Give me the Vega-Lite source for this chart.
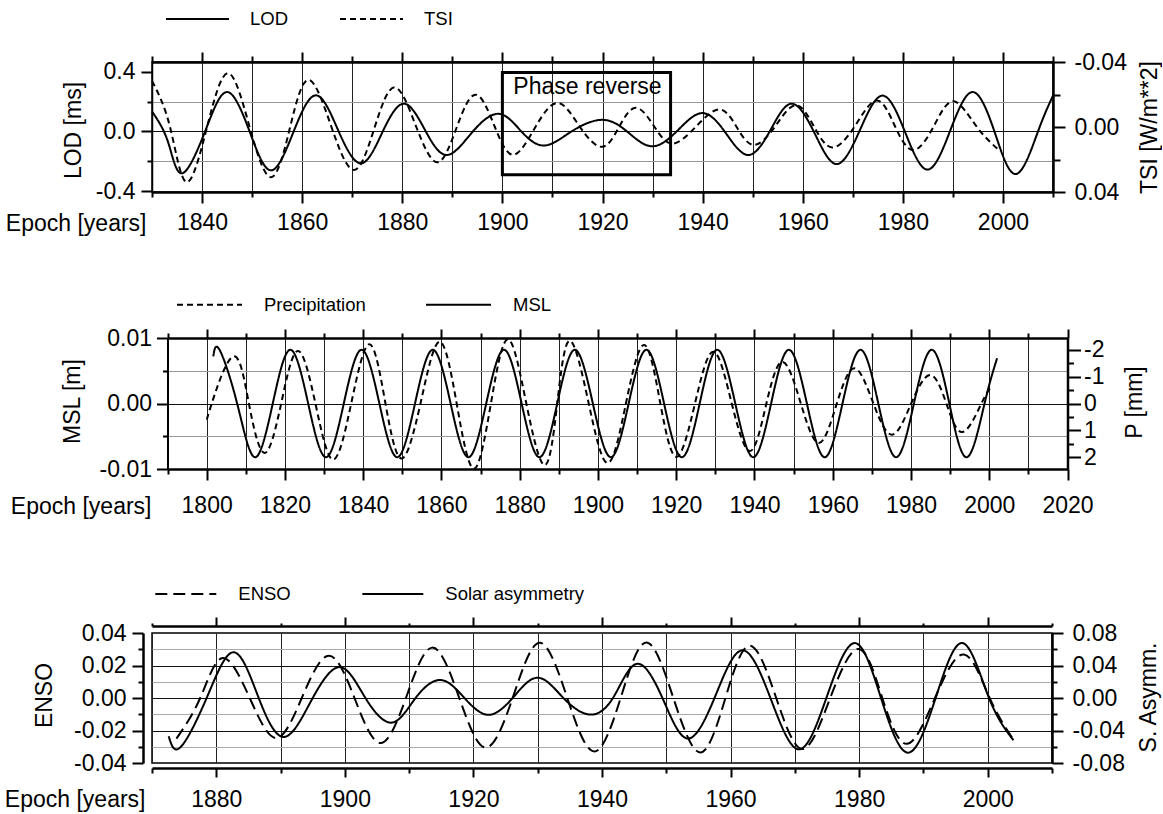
{
  "$schema": "https://vega.github.io/schema/vega-lite/v6.json",
  "background": "white",
  "padding": {"left": 3, "top": -15, "right": 0, "bottom": 0},
  "spacing": 20,
  "bounds": "full",
  "align": "none",
  "columns": 1,
  "datasets": {
    "lod": [
      {"year":1830,"v":0.134,"s":"LOD"},{"year":1833.2,"v":-0.07,"s":"LOD"},{"year":1836.0,"v":-0.28,"s":"LOD"},{"year":1840.6,"v":0,"s":"LOD"},{"year":1845.0,"v":0.264,"s":"LOD"},{"year":1849.5,"v":0,"s":"LOD"},{"year":1853.8,"v":-0.26,"s":"LOD"},{"year":1858.3,"v":0,"s":"LOD"},{"year":1862.8,"v":0.242,"s":"LOD"},{"year":1867.3,"v":0,"s":"LOD"},{"year":1871.8,"v":-0.213,"s":"LOD"},{"year":1876.1,"v":0,"s":"LOD"},{"year":1880.4,"v":0.186,"s":"LOD"},{"year":1884.7,"v":0,"s":"LOD"},{"year":1889.0,"v":-0.157,"s":"LOD"},{"year":1894.1,"v":0,"s":"LOD"},{"year":1899.3,"v":0.118,"s":"LOD"},{"year":1903.8,"v":0,"s":"LOD"},{"year":1908.4,"v":-0.094,"s":"LOD"},{"year":1913.8,"v":0,"s":"LOD"},{"year":1919.9,"v":0.078,"s":"LOD"},{"year":1924.9,"v":0,"s":"LOD"},{"year":1929.8,"v":-0.099,"s":"LOD"},{"year":1934.8,"v":0,"s":"LOD"},{"year":1939.8,"v":0.123,"s":"LOD"},{"year":1944.4,"v":0,"s":"LOD"},{"year":1949.0,"v":-0.157,"s":"LOD"},{"year":1953.4,"v":0,"s":"LOD"},{"year":1957.7,"v":0.186,"s":"LOD"},{"year":1962.2,"v":0,"s":"LOD"},{"year":1966.7,"v":-0.218,"s":"LOD"},{"year":1971.3,"v":0,"s":"LOD"},{"year":1975.9,"v":0.24,"s":"LOD"},{"year":1980.4,"v":0,"s":"LOD"},{"year":1984.9,"v":-0.255,"s":"LOD"},{"year":1989.4,"v":0,"s":"LOD"},{"year":1993.9,"v":0.264,"s":"LOD"},{"year":1998.3,"v":0,"s":"LOD"},{"year":2002.6,"v":-0.285,"s":"LOD"},{"year":2007.0,"v":0,"s":"LOD"},{"year":2010.0,"v":0.24,"s":"LOD"}
    ],
    "tsi": [
      {"year":1830,"v":-0.0284,"s":"TSI"},{"year":1833.6,"v":0,"s":"TSI"},{"year":1836.9,"v":0.0339,"s":"TSI"},{"year":1841.0,"v":0,"s":"TSI"},{"year":1845.2,"v":-0.0331,"s":"TSI"},{"year":1849.5,"v":0,"s":"TSI"},{"year":1853.8,"v":0.0309,"s":"TSI"},{"year":1857.6,"v":0,"s":"TSI"},{"year":1861.3,"v":-0.029,"s":"TSI"},{"year":1865.85,"v":0,"s":"TSI"},{"year":1870.4,"v":0.0264,"s":"TSI"},{"year":1874.5,"v":0,"s":"TSI"},{"year":1878.5,"v":-0.0244,"s":"TSI"},{"year":1882.8,"v":0,"s":"TSI"},{"year":1887.05,"v":0.0217,"s":"TSI"},{"year":1890.9,"v":0,"s":"TSI"},{"year":1894.7,"v":-0.0199,"s":"TSI"},{"year":1898.5,"v":0,"s":"TSI"},{"year":1902.2,"v":0.0171,"s":"TSI"},{"year":1906.6,"v":0,"s":"TSI"},{"year":1911.1,"v":-0.0148,"s":"TSI"},{"year":1915.5,"v":0,"s":"TSI"},{"year":1919.9,"v":0.0122,"s":"TSI"},{"year":1923.3,"v":0,"s":"TSI"},{"year":1926.7,"v":-0.0118,"s":"TSI"},{"year":1930.4,"v":0,"s":"TSI"},{"year":1934.0,"v":0.0102,"s":"TSI"},{"year":1938.6,"v":0,"s":"TSI"},{"year":1943.3,"v":-0.0108,"s":"TSI"},{"year":1946.8,"v":0,"s":"TSI"},{"year":1950.2,"v":0.011,"s":"TSI"},{"year":1954.4,"v":0,"s":"TSI"},{"year":1958.6,"v":-0.0134,"s":"TSI"},{"year":1962.3,"v":0,"s":"TSI"},{"year":1965.9,"v":0.0126,"s":"TSI"},{"year":1970.3,"v":0,"s":"TSI"},{"year":1974.8,"v":-0.0163,"s":"TSI"},{"year":1978.5,"v":0,"s":"TSI"},{"year":1982.1,"v":0.0142,"s":"TSI"},{"year":1986.1,"v":0,"s":"TSI"},{"year":1990.1,"v":-0.0158,"s":"TSI"},{"year":1994.8,"v":0,"s":"TSI"},{"year":1999.5,"v":0.015,"s":"TSI"}
    ],
    "box": [
      {"x0":1900,"x1":1933.6,"y0":0.395,"y1":-0.29,"tx":1917,"ty":0.3,"label":"Phase reverse"}
    ],
    "msl": [
      {"year":1801.7,"v":0.0072,"s":"MSL"},{"year":1803.3,"v":0.0082,"s":"MSL"},{"year":1807.8,"v":0,"s":"MSL"},{"year":1812.35,"v":-0.0082,"s":"MSL"},{"year":1816.9,"v":0,"s":"MSL"},{"year":1821.4,"v":0.0082,"s":"MSL"},{"year":1825.95,"v":0,"s":"MSL"},{"year":1830.5,"v":-0.0082,"s":"MSL"},{"year":1835.05,"v":0,"s":"MSL"},{"year":1839.6,"v":0.0082,"s":"MSL"},{"year":1844.15,"v":0,"s":"MSL"},{"year":1848.7,"v":-0.0082,"s":"MSL"},{"year":1853.25,"v":0,"s":"MSL"},{"year":1857.8,"v":0.0082,"s":"MSL"},{"year":1862.35,"v":0,"s":"MSL"},{"year":1866.9,"v":-0.0082,"s":"MSL"},{"year":1871.45,"v":0,"s":"MSL"},{"year":1876.0,"v":0.0082,"s":"MSL"},{"year":1880.5,"v":0,"s":"MSL"},{"year":1885.05,"v":-0.0082,"s":"MSL"},{"year":1889.6,"v":0,"s":"MSL"},{"year":1894.1,"v":0.0082,"s":"MSL"},{"year":1898.7,"v":0,"s":"MSL"},{"year":1903.3,"v":-0.0082,"s":"MSL"},{"year":1907.85,"v":0,"s":"MSL"},{"year":1912.4,"v":0.0082,"s":"MSL"},{"year":1916.9,"v":0,"s":"MSL"},{"year":1921.45,"v":-0.0082,"s":"MSL"},{"year":1926.0,"v":0,"s":"MSL"},{"year":1930.5,"v":0.0082,"s":"MSL"},{"year":1935.1,"v":0,"s":"MSL"},{"year":1939.7,"v":-0.0082,"s":"MSL"},{"year":1944.25,"v":0,"s":"MSL"},{"year":1948.8,"v":0.0082,"s":"MSL"},{"year":1953.4,"v":0,"s":"MSL"},{"year":1957.95,"v":-0.0082,"s":"MSL"},{"year":1962.5,"v":0,"s":"MSL"},{"year":1967.1,"v":0.0082,"s":"MSL"},{"year":1971.65,"v":0,"s":"MSL"},{"year":1976.2,"v":-0.0082,"s":"MSL"},{"year":1980.75,"v":0,"s":"MSL"},{"year":1985.3,"v":0.0082,"s":"MSL"},{"year":1989.8,"v":0,"s":"MSL"},{"year":1994.3,"v":-0.0082,"s":"MSL"},{"year":1998.8,"v":0,"s":"MSL"},{"year":2002.0,"v":0.0069,"s":"MSL"}
    ],
    "precip": [
      {"year":1800.1,"v":0.6,"s":"Precipitation"},{"year":1801.3,"v":0,"s":"Precipitation"},{"year":1806.8,"v":-1.75,"s":"Precipitation"},{"year":1810.8,"v":0,"s":"Precipitation"},{"year":1814.8,"v":1.84,"s":"Precipitation"},{"year":1819.05,"v":0,"s":"Precipitation"},{"year":1823.3,"v":-1.96,"s":"Precipitation"},{"year":1827.8,"v":0,"s":"Precipitation"},{"year":1832.3,"v":2.09,"s":"Precipitation"},{"year":1836.95,"v":0,"s":"Precipitation"},{"year":1841.6,"v":-2.21,"s":"Precipitation"},{"year":1845.7,"v":0,"s":"Precipitation"},{"year":1849.8,"v":2.05,"s":"Precipitation"},{"year":1854.65,"v":0,"s":"Precipitation"},{"year":1859.5,"v":-2.3,"s":"Precipitation"},{"year":1863.9,"v":0,"s":"Precipitation"},{"year":1868.3,"v":2.43,"s":"Precipitation"},{"year":1872.65,"v":0,"s":"Precipitation"},{"year":1877.0,"v":-2.39,"s":"Precipitation"},{"year":1881.7,"v":0,"s":"Precipitation"},{"year":1886.4,"v":2.3,"s":"Precipitation"},{"year":1889.6,"v":0,"s":"Precipitation"},{"year":1892.8,"v":-2.34,"s":"Precipitation"},{"year":1897.65,"v":0,"s":"Precipitation"},{"year":1902.5,"v":2.22,"s":"Precipitation"},{"year":1907.15,"v":0,"s":"Precipitation"},{"year":1911.8,"v":-2.18,"s":"Precipitation"},{"year":1915.95,"v":0,"s":"Precipitation"},{"year":1920.1,"v":1.99,"s":"Precipitation"},{"year":1924.8,"v":0,"s":"Precipitation"},{"year":1929.5,"v":-1.93,"s":"Precipitation"},{"year":1934.2,"v":0,"s":"Precipitation"},{"year":1938.9,"v":1.77,"s":"Precipitation"},{"year":1943.05,"v":0,"s":"Precipitation"},{"year":1947.2,"v":-1.55,"s":"Precipitation"},{"year":1951.85,"v":0,"s":"Precipitation"},{"year":1956.5,"v":1.47,"s":"Precipitation"},{"year":1961.05,"v":0,"s":"Precipitation"},{"year":1965.6,"v":-1.31,"s":"Precipitation"},{"year":1970.4,"v":0,"s":"Precipitation"},{"year":1975.2,"v":1.16,"s":"Precipitation"},{"year":1980.05,"v":0,"s":"Precipitation"},{"year":1984.9,"v":-1.06,"s":"Precipitation"},{"year":1989.05,"v":0,"s":"Precipitation"},{"year":1993.2,"v":1.06,"s":"Precipitation"},{"year":1998.0,"v":0,"s":"Precipitation"},{"year":2000.2,"v":-0.56,"s":"Precipitation"}
    ],
    "enso": [
      {"year":1873.8,"v":-0.025,"s":"ENSO"},{"year":1877.5,"v":0,"s":"ENSO"},{"year":1881.0,"v":0.0246,"s":"ENSO"},{"year":1885.2,"v":0,"s":"ENSO"},{"year":1889.3,"v":-0.0246,"s":"ENSO"},{"year":1893.3,"v":0,"s":"ENSO"},{"year":1897.5,"v":0.026,"s":"ENSO"},{"year":1901.5,"v":0,"s":"ENSO"},{"year":1905.5,"v":-0.0277,"s":"ENSO"},{"year":1909.5,"v":0,"s":"ENSO"},{"year":1913.6,"v":0.031,"s":"ENSO"},{"year":1917.8,"v":0,"s":"ENSO"},{"year":1921.9,"v":-0.0305,"s":"ENSO"},{"year":1926.1,"v":0,"s":"ENSO"},{"year":1930.3,"v":0.034,"s":"ENSO"},{"year":1934.6,"v":0,"s":"ENSO"},{"year":1938.8,"v":-0.0329,"s":"ENSO"},{"year":1942.9,"v":0,"s":"ENSO"},{"year":1946.9,"v":0.0342,"s":"ENSO"},{"year":1951.1,"v":0,"s":"ENSO"},{"year":1955.3,"v":-0.0335,"s":"ENSO"},{"year":1959.2,"v":0,"s":"ENSO"},{"year":1963.0,"v":0.0322,"s":"ENSO"},{"year":1967.1,"v":0,"s":"ENSO"},{"year":1971.2,"v":-0.0314,"s":"ENSO"},{"year":1975.5,"v":0,"s":"ENSO"},{"year":1979.9,"v":0.0302,"s":"ENSO"},{"year":1983.6,"v":0,"s":"ENSO"},{"year":1987.4,"v":-0.0282,"s":"ENSO"},{"year":1991.8,"v":0,"s":"ENSO"},{"year":1996.3,"v":0.0268,"s":"ENSO"},{"year":2000.3,"v":0,"s":"ENSO"},{"year":2004.0,"v":-0.0257,"s":"ENSO"}
    ],
    "sa": [
      {"year":1872.6,"v":-0.047,"s":"Solar asymmetry"},{"year":1874.4,"v":-0.0608,"s":"Solar asymmetry"},{"year":1878.5,"v":0,"s":"Solar asymmetry"},{"year":1882.7,"v":0.0563,"s":"Solar asymmetry"},{"year":1886.6,"v":0,"s":"Solar asymmetry"},{"year":1890.6,"v":-0.0479,"s":"Solar asymmetry"},{"year":1895.0,"v":0,"s":"Solar asymmetry"},{"year":1899.3,"v":0.038,"s":"Solar asymmetry"},{"year":1903.2,"v":0,"s":"Solar asymmetry"},{"year":1907.3,"v":-0.0303,"s":"Solar asymmetry"},{"year":1911.0,"v":0,"s":"Solar asymmetry"},{"year":1914.9,"v":0.0222,"s":"Solar asymmetry"},{"year":1918.6,"v":0,"s":"Solar asymmetry"},{"year":1922.3,"v":-0.0207,"s":"Solar asymmetry"},{"year":1926.1,"v":0,"s":"Solar asymmetry"},{"year":1930.0,"v":0.025,"s":"Solar asymmetry"},{"year":1934.0,"v":0,"s":"Solar asymmetry"},{"year":1938.0,"v":-0.0203,"s":"Solar asymmetry"},{"year":1941.7,"v":0,"s":"Solar asymmetry"},{"year":1945.4,"v":0.042,"s":"Solar asymmetry"},{"year":1949.4,"v":0,"s":"Solar asymmetry"},{"year":1953.3,"v":-0.0499,"s":"Solar asymmetry"},{"year":1957.5,"v":0,"s":"Solar asymmetry"},{"year":1961.8,"v":0.0587,"s":"Solar asymmetry"},{"year":1966.2,"v":0,"s":"Solar asymmetry"},{"year":1970.6,"v":-0.0632,"s":"Solar asymmetry"},{"year":1974.9,"v":0,"s":"Solar asymmetry"},{"year":1979.3,"v":0.0676,"s":"Solar asymmetry"},{"year":1983.4,"v":0,"s":"Solar asymmetry"},{"year":1987.6,"v":-0.0673,"s":"Solar asymmetry"},{"year":1991.9,"v":0,"s":"Solar asymmetry"},{"year":1996.1,"v":0.0676,"s":"Solar asymmetry"},{"year":2000.2,"v":0,"s":"Solar asymmetry"},{"year":2004.0,"v":-0.052,"s":"Solar asymmetry"}
    ]
  },
  "concat": [
    {
      "width": 901,
      "height": 130,
      "layer": [
        {
          "data": {"name": "lod"},
          "mark": {"type": "line", "interpolate": "natural", "strokeWidth": 2, "color": "black"},
          "encoding": {
            "x": {"field": "year", "type": "quantitative", "scale": {"domain": [1830, 2010], "nice": false, "zero": false},
              "axis": {"orient": "bottom", "values": [1830,1840,1850,1860,1870,1880,1890,1900,1910,1920,1930,1940,1950,1960,1970,1980,1990,2000,2010],
                "tickSize": {"condition": {"test": "datum.value % 20 === 0", "value": 11}, "value": 5},
                "tickWidth": 2, "domainWidth": 2.5, "labelPadding": 8,
                "labelExpr": "datum.value % 20 === 0 && datum.value >= 1840 && datum.value <= 2000 ? format(datum.value, 'd') : ''",
                "grid": true, "gridColor": "#222", "gridWidth": 1,
                "title": "Epoch [years]", "titleX": -6, "titleY": 38, "titleAlign": "right", "titleBaseline": "alphabetic"}},
            "y": {"field": "v", "type": "quantitative", "scale": {"domain": [-0.405, 0.465], "nice": false, "zero": false},
              "axis": {"orient": "left", "values": [-0.4, -0.2, 0, 0.2, 0.4],
                "tickSize": {"condition": {"test": "abs(abs(datum.value) - 0.2) < 0.01", "value": 5}, "value": 11},
                "tickWidth": 2, "domainWidth": 1.5, "labelPadding": 6,
                "labelExpr": "abs(abs(datum.value) - 0.2) < 0.01 ? '' : replace(format(datum.value, '.1f'), '\u2212', '-')",
                "grid": true, "gridWidth": 1,
                "gridColor": {"condition": [{"test": "abs(datum.value) < 0.01", "value": "#111"}, {"test": "abs(abs(datum.value) - 0.4) < 0.01", "value": "transparent"}], "value": "#999"},
                "title": "LOD [ms]", "titleX": -79, "titleY": 68, "titleAngle": -90, "titleAlign": "center", "titleBaseline": "middle"}},
            "strokeDash": {"field": "s", "type": "nominal", "scale": {"domain": ["LOD", "TSI"], "range": [[1, 0], [6, 4]]},
              "legend": {"orient": "none", "legendX": 13, "legendY": -75.5, "direction": "horizontal", "columns": 2, "title": null,
                "symbolType": "stroke", "symbolSize": 3969, "symbolStrokeWidth": 2, "symbolStrokeColor": "black",
                "labelFontSize": 18.5, "labelOffset": 20, "columnPadding": 47, "padding": 0, "labelColor": "black"}}
          }
        },
        {
          "data": {"name": "box"},
          "mark": {"type": "rect", "filled": false, "stroke": "black", "strokeWidth": 3},
          "encoding": {
            "x": {"field": "x0", "type": "quantitative", "scale": {"domain": [1830, 2010], "nice": false, "zero": false}, "axis": null},
            "x2": {"field": "x1"},
            "y": {"field": "y0", "type": "quantitative", "scale": {"domain": [-0.405, 0.465], "nice": false, "zero": false}, "axis": null},
            "y2": {"field": "y1"}
          }
        },
        {
          "data": {"name": "box"},
          "mark": {"type": "text", "fontSize": 23, "color": "black"},
          "encoding": {
            "x": {"field": "tx", "type": "quantitative", "scale": {"domain": [1830, 2010], "nice": false, "zero": false}, "axis": null},
            "y": {"field": "ty", "type": "quantitative", "scale": {"domain": [-0.405, 0.465], "nice": false, "zero": false}, "axis": null},
            "text": {"field": "label"}
          }
        },
        {
          "data": {"name": "tsi"},
          "mark": {"type": "line", "interpolate": "natural", "strokeWidth": 2, "color": "black"},
          "encoding": {
            "x": {"field": "year", "type": "quantitative", "scale": {"domain": [1830, 2010], "nice": false, "zero": false},
              "axis": {"orient": "top", "values": [1830,1840,1850,1860,1870,1880,1890,1900,1910,1920,1930,1940,1950,1960,1970,1980,1990,2000,2010],
                "tickSize": {"condition": {"test": "datum.value % 20 === 0", "value": 10}, "value": 6},
                "tickWidth": 2, "domainWidth": 2.5, "labels": false, "grid": false, "title": null}},
            "y": {"field": "v", "type": "quantitative", "scale": {"domain": [-0.04, 0.04], "reverse": true, "nice": false, "zero": false},
              "axis": {"orient": "right", "values": [-0.04, -0.02, 0, 0.02, 0.04],
                "tickSize": {"condition": {"test": "abs(abs(datum.value) - 0.02) < 0.001", "value": 7}, "value": 12},
                "tickWidth": 2, "domainWidth": 2.5, "labelPadding": 9,
                "labelExpr": "abs(abs(datum.value) - 0.02) < 0.001 ? '' : replace(format(datum.value, '.2f'), '\u2212', '-')",
                "grid": false,
                "title": "TSI [W/m**2]", "titleX": 96, "titleY": 65, "titleAngle": -90, "titleAlign": "center", "titleBaseline": "middle"}},
            "strokeDash": {"field": "s", "type": "nominal", "scale": {"domain": ["LOD", "TSI"], "range": [[1, 0], [6, 4]]},
              "legend": {"orient": "none", "legendX": 13, "legendY": -75.5, "direction": "horizontal", "columns": 2, "title": null,
                "symbolType": "stroke", "symbolSize": 3969, "symbolStrokeWidth": 2, "symbolStrokeColor": "black",
                "labelFontSize": 18.5, "labelOffset": 20, "columnPadding": 47, "padding": 0, "labelColor": "black"}}
          }
        }
      ],
      "resolve": {"scale": {"y": "independent"}, "axis": {"x": "independent", "y": "independent"}}
    },
    {
      "width": 900,
      "height": 131,
      "view": {"stroke": null},
      "layer": [
        {
          "data": {"name": "msl"},
          "mark": {"type": "line", "interpolate": "natural", "strokeWidth": 2, "color": "black"},
          "encoding": {
            "x": {"field": "year", "type": "quantitative", "scale": {"domain": [1790, 2020], "range": [15.5, 915.5], "nice": false, "zero": false},
              "axis": {"orient": "bottom", "values": [1790,1800,1810,1820,1830,1840,1850,1860,1870,1880,1890,1900,1910,1920,1930,1940,1950,1960,1970,1980,1990,2000,2010,2020],
                "tickSize": {"condition": {"test": "datum.value % 20 === 0", "value": 11}, "value": 5},
                "tickWidth": 2, "domainWidth": 2.5, "labelPadding": 14,
                "labelExpr": "datum.value % 20 === 0 ? format(datum.value, 'd') : ''",
                "grid": true, "gridColor": "#222", "gridWidth": 1,
                "title": "Epoch [years]", "titleX": -1, "titleY": 44, "titleAlign": "right", "titleBaseline": "alphabetic"}},
            "y": {"field": "v", "type": "quantitative", "scale": {"domain": [-0.01, 0.01], "nice": false, "zero": false},
              "axis": {"orient": "left", "offset": -15.5, "values": [-0.01, -0.005, 0, 0.005, 0.01],
                "tickSize": {"condition": {"test": "abs(abs(datum.value) - 0.005) < 0.001", "value": 5}, "value": 11},
                "tickWidth": 2, "domainWidth": 2, "labelPadding": 5,
                "labelExpr": "abs(abs(datum.value) - 0.005) < 0.001 ? '' : replace(format(datum.value, '.2f'), '\u2212', '-')",
                "grid": true, "gridWidth": 1,
                "gridColor": {"condition": [{"test": "abs(datum.value) < 0.001", "value": "#111"}, {"test": "abs(abs(datum.value) - 0.01) < 0.001", "value": "transparent"}], "value": "#999"},
                "title": "MSL [m]", "titleX": -95, "titleY": 63, "titleAngle": -90, "titleAlign": "center", "titleBaseline": "middle"}},
            "strokeDash": {"field": "s", "type": "nominal", "scale": {"domain": ["Precipitation", "MSL"], "range": [[6, 4], [1, 0]]},
              "legend": {"orient": "none", "legendX": 9.2, "legendY": -81.6, "direction": "horizontal", "columns": 2, "title": null,
                "symbolType": "stroke", "symbolSize": 4225, "symbolStrokeWidth": 2, "symbolStrokeColor": "black",
                "labelFontSize": 18.5, "labelOffset": 21, "columnPadding": 56, "padding": 14.8, "labelColor": "black"}}
          }
        },
        {
          "data": {"name": "precip"},
          "mark": {"type": "line", "interpolate": "natural", "strokeWidth": 2, "color": "black"},
          "encoding": {
            "x": {"field": "year", "type": "quantitative", "scale": {"domain": [1790, 2020], "range": [15.5, 915.5], "nice": false, "zero": false},
              "axis": {"orient": "top", "values": [1790,1800,1810,1820,1830,1840,1850,1860,1870,1880,1890,1900,1910,1920,1930,1940,1950,1960,1970,1980,1990,2000,2010,2020],
                "tickSize": {"condition": {"test": "datum.value % 20 === 0", "value": 9}, "value": 5},
                "tickWidth": 2, "domainWidth": 2.5, "labels": false, "grid": false, "title": null}},
            "y": {"field": "v", "type": "quantitative", "scale": {"domain": [-2.44, 2.44], "reverse": true, "nice": false, "zero": false},
              "axis": {"orient": "right", "offset": 15.5, "values": [-2, -1.5, -1, -0.5, 0, 0.5, 1, 1.5, 2],
                "tickSize": {"condition": {"test": "datum.value % 1 !== 0", "value": 6}, "value": 13},
                "tickWidth": 2, "domainWidth": 2.5, "labelPadding": 3,
                "labelExpr": "datum.value % 1 !== 0 ? '' : replace(format(datum.value, 'd'), '\u2212', '-')",
                "grid": false,
                "title": "P [mm]", "titleX": 67, "titleY": 64, "titleAngle": -90, "titleAlign": "center", "titleBaseline": "middle"}},
            "strokeDash": {"field": "s", "type": "nominal", "scale": {"domain": ["Precipitation", "MSL"], "range": [[6, 4], [1, 0]]},
              "legend": {"orient": "none", "legendX": 9.2, "legendY": -81.6, "direction": "horizontal", "columns": 2, "title": null,
                "symbolType": "stroke", "symbolSize": 4225, "symbolStrokeWidth": 2, "symbolStrokeColor": "black",
                "labelFontSize": 18.5, "labelOffset": 21, "columnPadding": 56, "padding": 14.8, "labelColor": "black"}}
          }
        }
      ],
      "resolve": {"scale": {"y": "independent"}, "axis": {"x": "independent", "y": "independent"}}
    },
    {
      "width": 900,
      "height": 130,
      "layer": [
        {
          "data": {"name": "enso"},
          "mark": {"type": "line", "interpolate": "natural", "strokeWidth": 2, "color": "black"},
          "encoding": {
            "x": {"field": "year", "type": "quantitative", "scale": {"domain": [1870, 2010], "nice": false, "zero": false},
              "axis": {"orient": "bottom", "offset": 5, "values": [1870,1880,1890,1900,1910,1920,1930,1940,1950,1960,1970,1980,1990,2000,2010],
                "tickSize": {"condition": {"test": "datum.value % 20 === 0", "value": 9}, "value": 5},
                "tickWidth": 2, "domainWidth": 2.5, "labelPadding": 11,
                "labelExpr": "datum.value % 20 === 0 ? format(datum.value, 'd') : ''",
                "grid": true, "gridColor": "#222", "gridWidth": 1,
                "title": "Epoch [years]", "titleX": -7, "titleY": 38, "titleAlign": "right", "titleBaseline": "alphabetic"}},
            "y": {"field": "v", "type": "quantitative", "scale": {"domain": [-0.04, 0.04], "nice": false, "zero": false},
              "axis": {"orient": "left", "offset": 9, "values": [-0.04, -0.03, -0.02, -0.01, 0, 0.01, 0.02, 0.03, 0.04],
                "tickSize": {"condition": {"test": "abs(round(datum.value * 100)) % 2 === 1", "value": 5}, "value": 11},
                "tickWidth": 2, "domainWidth": 2.5, "labelPadding": 6,
                "labelExpr": "abs(round(datum.value * 100)) % 2 === 1 ? '' : replace(format(datum.value, '.2f'), '\u2212', '-')",
                "grid": true, "gridWidth": 1,
                "gridColor": {"condition": [{"test": "abs(abs(datum.value) - 0.04) < 0.001", "value": "transparent"}, {"test": "abs(round(datum.value * 100)) % 2 === 1", "value": "#aaa"}], "value": "#111"},
                "title": "ENSO", "titleX": -99, "titleY": 62, "titleAngle": -90, "titleAlign": "center", "titleBaseline": "middle"}},
            "strokeDash": {"field": "s", "type": "nominal", "scale": {"domain": ["ENSO", "Solar asymmetry"], "range": [[12, 6], [1, 0]]},
              "legend": {"orient": "none", "legendX": -20.5, "legendY": -93.3, "direction": "horizontal", "columns": 2, "title": null,
                "symbolType": "stroke", "symbolSize": 3721, "symbolStrokeWidth": 2, "symbolStrokeColor": "black",
                "labelFontSize": 18.5, "labelOffset": 21, "columnPadding": 67, "padding": 22.8, "labelColor": "black"}}
          }
        },
        {
          "data": {"name": "sa"},
          "mark": {"type": "line", "interpolate": "natural", "strokeWidth": 2, "color": "black"},
          "encoding": {
            "x": {"field": "year", "type": "quantitative", "scale": {"domain": [1870, 2010], "nice": false, "zero": false},
              "axis": {"orient": "top", "offset": 7, "values": [1870,1880,1890,1900,1910,1920,1930,1940,1950,1960,1970,1980,1990,2000,2010],
                "tickSize": {"condition": {"test": "datum.value % 20 === 0", "value": 9}, "value": 3},
                "tickWidth": 2, "domainWidth": 2.5, "labels": false, "grid": false, "title": null}},
            "y": {"field": "v", "type": "quantitative", "scale": {"domain": [-0.08, 0.08], "nice": false, "zero": false},
              "axis": {"orient": "right", "values": [-0.08, -0.06, -0.04, -0.02, 0, 0.02, 0.04, 0.06, 0.08],
                "tickSize": {"condition": {"test": "abs(round(datum.value * 50)) % 2 === 1", "value": 5}, "value": 11},
                "tickWidth": 2, "domainWidth": 2.5, "labelPadding": 9,
                "labelExpr": "abs(round(datum.value * 50)) % 2 === 1 ? '' : replace(format(datum.value, '.2f'), '\u2212', '-')",
                "grid": false,
                "title": "S. Asymm.", "titleX": 96, "titleY": 64, "titleAngle": -90, "titleAlign": "center", "titleBaseline": "middle"}},
            "strokeDash": {"field": "s", "type": "nominal", "scale": {"domain": ["ENSO", "Solar asymmetry"], "range": [[12, 6], [1, 0]]},
              "legend": {"orient": "none", "legendX": -20.5, "legendY": -93.3, "direction": "horizontal", "columns": 2, "title": null,
                "symbolType": "stroke", "symbolSize": 3721, "symbolStrokeWidth": 2, "symbolStrokeColor": "black",
                "labelFontSize": 18.5, "labelOffset": 21, "columnPadding": 67, "padding": 22.8, "labelColor": "black"}}
          }
        }
      ],
      "resolve": {"scale": {"y": "independent"}, "axis": {"x": "independent", "y": "independent"}}
    }
  ],
  "resolve": {"scale": {"strokeDash": "independent", "x": "independent"}, "legend": {"strokeDash": "independent"}},
  "config": {
    "font": "Liberation Sans",
    "view": {"stroke": "black", "strokeWidth": 1.5},
    "axis": {"labelFontSize": 23, "titleFontSize": 23, "titleFontWeight": "normal", "labelColor": "black", "titleColor": "black",
      "domainColor": "black", "tickColor": "black", "labelFont": "Liberation Sans", "titleFont": "Liberation Sans",
      "labelFlush": false, "labelOverlap": false, "labelBound": false},
    "legend": {"labelFont": "Liberation Sans"},
    "text": {"font": "Liberation Sans"}
  }
}
